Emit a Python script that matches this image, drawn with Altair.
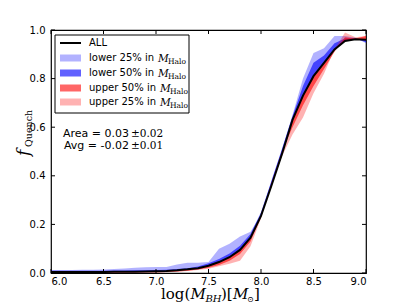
import altair as alt
import pandas as pd

# ---------------- data ----------------
x_bh = [6.0, 6.1, 6.2, 6.3, 6.4, 6.5, 6.6, 6.7, 6.8, 6.9,
        7.0, 7.1, 7.2, 7.3, 7.4, 7.5, 7.6, 7.7, 7.8, 7.9,
        8.0, 8.1, 8.2, 8.3, 8.4, 8.5, 8.6, 8.7, 8.8, 8.9, 9.0]

f_all = [0.004, 0.004, 0.004, 0.004, 0.004, 0.004, 0.005, 0.005, 0.005, 0.006,
         0.007, 0.008, 0.011, 0.015, 0.020, 0.030, 0.045, 0.065, 0.095, 0.145,
         0.235, 0.360, 0.490, 0.630, 0.730, 0.810, 0.865, 0.920, 0.955, 0.962, 0.960]

f_low25 = [0.012, 0.012, 0.012, 0.013, 0.013, 0.014, 0.016, 0.019, 0.022, 0.024,
           0.025, 0.025, 0.035, 0.042, 0.042, 0.045, 0.100, 0.120, 0.150, 0.170,
           0.240, 0.380, 0.510, 0.650, 0.800, 0.905, 0.925, 0.975, 0.975, 0.968, 0.945]

f_low50 = [0.009, 0.009, 0.009, 0.009, 0.009, 0.009, 0.010, 0.010, 0.011, 0.011,
           0.012, 0.013, 0.016, 0.020, 0.027, 0.040, 0.058, 0.080, 0.112, 0.160,
           0.250, 0.380, 0.510, 0.645, 0.770, 0.865, 0.895, 0.945, 0.965, 0.965, 0.950]

f_up50 = [0.001, 0.001, 0.001, 0.001, 0.001, 0.002, 0.002, 0.002, 0.002, 0.003,
          0.003, 0.004, 0.006, 0.009, 0.014, 0.022, 0.033, 0.050, 0.078, 0.130,
          0.230, 0.370, 0.500, 0.600, 0.690, 0.770, 0.840, 0.910, 0.970, 0.965, 0.975]

f_up25 = [0.000, 0.000, 0.000, 0.000, 0.001, 0.001, 0.001, 0.001, 0.002, 0.002,
          0.002, 0.003, 0.005, 0.008, 0.012, 0.018, 0.028, 0.038, 0.050, 0.110,
          0.225, 0.370, 0.480, 0.570, 0.640, 0.740, 0.820, 0.920, 0.990, 0.970, 0.975]

x_ticks = [6.0, 6.5, 7.0, 7.5, 8.0, 8.5, 9.0]
y_ticks = [0.0, 0.2, 0.4, 0.6, 0.8, 1.0]

band_names = ["lower 25% in", "lower 50% in", "upper 50% in", "upper 25% in"]
band_values = [f_low25, f_low50, f_up50, f_up25]
band_colors = ["blue", "blue", "red", "red"]
band_opacity = [0.3, 0.62, 0.6, 0.3]

annot_left = ["Area = 0.03", "Avg = -0.02"]
annot_right = ["\u00b10.02", "\u00b10.01"]

# ---------------- layout constants ----------------
W, H = 315, 243
xs = alt.Scale(domain=[6, 9], nice=False, zero=False)
ys = alt.Scale(domain=[0, 1], nice=False, zero=False)
SANS = "DejaVu Sans"
SERIF = "DejaVu Serif"

x_axis = alt.Axis(values=x_ticks, format=".1f", ticks=False, domain=False, grid=False,
                  labelPadding=3, labelFont=SANS, labelFontSize=10, labelColor="black",
                  title=None)
y_axis = alt.Axis(values=y_ticks, format=".1f", ticks=False, domain=False, grid=False,
                  labelPadding=6, labelFont=SANS, labelFontSize=10, labelColor="black",
                  title=None)

one = pd.DataFrame({"a": [0]})

layers = []

# bands: filled between ALL and each sub-sample curve
for name, vals, col, op in zip(band_names, band_values, band_colors, band_opacity):
    df = pd.DataFrame({"x": x_bh, "lo": f_all, "hi": vals})
    layers.append(
        alt.Chart(df).mark_area(color=col, opacity=op, clip=True).encode(
            x=alt.X("x:Q", scale=xs, axis=x_axis),
            y=alt.Y("lo:Q", scale=ys, axis=y_axis),
            y2="hi:Q",
        )
    )

# ALL line
df_all = pd.DataFrame({"x": x_bh, "lo": f_all})
layers.append(
    alt.Chart(df_all).mark_line(color="black", strokeWidth=2, clip=True).encode(
        x=alt.X("x:Q", scale=xs, axis=x_axis),
        y=alt.Y("lo:Q", scale=ys, axis=y_axis),
    )
)

# inward ticks on all four sides
dfx = pd.DataFrame({"x": x_ticks})
dfy = pd.DataFrame({"lo": y_ticks})
for y0, y1 in [(H, H - 4), (0, 4)]:
    layers.append(alt.Chart(dfx).mark_rule(color="black", strokeWidth=1).encode(
        x=alt.X("x:Q", scale=xs, axis=x_axis), y=alt.value(y0), y2=alt.value(y1)))
for x0, x1 in [(0, 4), (W, W - 4)]:
    layers.append(alt.Chart(dfy).mark_rule(color="black", strokeWidth=1).encode(
        y=alt.Y("lo:Q", scale=ys, axis=y_axis), x=alt.value(x0), x2=alt.value(x1)))

# legend box
layers.append(alt.Chart(one).mark_rect(fill="white", stroke="black", strokeWidth=1).encode(
    x=alt.value(4), x2=alt.value(138), y=alt.value(5), y2=alt.value(83)))
row_y = [13, 28, 43, 58, 72]
layers.append(alt.Chart(one).mark_rule(color="black", strokeWidth=2).encode(
    x=alt.value(9), x2=alt.value(30), y=alt.value(row_y[0])))
layers.append(alt.Chart(pd.DataFrame({"t": ["ALL"]})).mark_text(
    align="left", baseline="middle", font=SANS, fontSize=10, color="black").encode(
    text="t:N", x=alt.value(38), y=alt.value(row_y[0])))
for i, (name, col, op) in enumerate(zip(band_names, band_colors, band_opacity)):
    ry = row_y[i + 1]
    layers.append(alt.Chart(one).mark_rect(color=col, opacity=op).encode(
        x=alt.value(9), x2=alt.value(30), y=alt.value(ry - 3.5), y2=alt.value(ry + 3.5)))
    layers.append(alt.Chart(pd.DataFrame({"t": [name]})).mark_text(
        align="left", baseline="middle", font=SANS, fontSize=10, color="black").encode(
        text="t:N", x=alt.value(38), y=alt.value(ry)))
    mx = 107 if name.startswith("lower") else 109
    layers.append(alt.Chart(pd.DataFrame({"t": ["M"]})).mark_text(
        align="left", baseline="alphabetic", font=SERIF, fontStyle="italic", fontSize=10.5,
        color="black").encode(text="t:N", x=alt.value(mx), y=alt.value(ry + 4)))
    layers.append(alt.Chart(pd.DataFrame({"t": ["Halo"]})).mark_text(
        align="left", baseline="alphabetic", font=SERIF, fontSize=7.5,
        color="black").encode(text="t:N", x=alt.value(mx + 10), y=alt.value(ry + 6)))

# annotation text
for i, (l, r) in enumerate(zip(annot_left, annot_right)):
    yy = 104 + 12 * i
    layers.append(alt.Chart(pd.DataFrame({"t": [l]})).mark_text(
        align="right", baseline="middle", font=SANS, fontSize=11, color="black").encode(
        text="t:N", x=alt.value(78), y=alt.value(yy)))
    layers.append(alt.Chart(pd.DataFrame({"t": [r]})).mark_text(
        align="left", baseline="middle", font=SERIF, fontSize=10.5, color="black").encode(
        text="t:N", x=alt.value(80), y=alt.value(yy)))

# axis titles (math-style pieces)
def piece(txt, x, y, size, italic=False, angle=0):
    kw = dict(align="left", baseline="alphabetic", font=SERIF, fontSize=size, color="black")
    if italic:
        kw["fontStyle"] = "italic"
    if angle:
        kw["angle"] = angle
    return alt.Chart(pd.DataFrame({"t": [txt]})).mark_text(**kw).encode(
        text="t:N", x=alt.value(x), y=alt.value(y))

bx = -51
by = 299 - 30
layers += [
    piece("log(", 161 + bx, by, 15),
    piece("M", 190.5 + bx, by, 15, italic=True),
    piece("BH", 205.5 + bx, by + 3, 10, italic=True),
    piece(")[", 221 + bx, by, 15),
    piece("M", 233 + bx, by, 15, italic=True),
    piece("\u2299", 247 + bx, by + 3, 8),
    piece("]", 254 + bx, by, 15),
]
# y title rotated
layers += [
    piece("f", 29 - 51, 156 - 30, 17, italic=True, angle=270),
    piece("Quench", 32 - 51, 147 - 30, 9.5, angle=270),
]

chart = alt.layer(*layers).properties(
    width=W, height=H, autosize="none",
    padding={"left": 43, "top": 22, "right": 33, "bottom": 32},
).configure_view(stroke="black", strokeWidth=1.2)

chart.save("out.html", embed_options={"renderer": "svg", "actions": False})
